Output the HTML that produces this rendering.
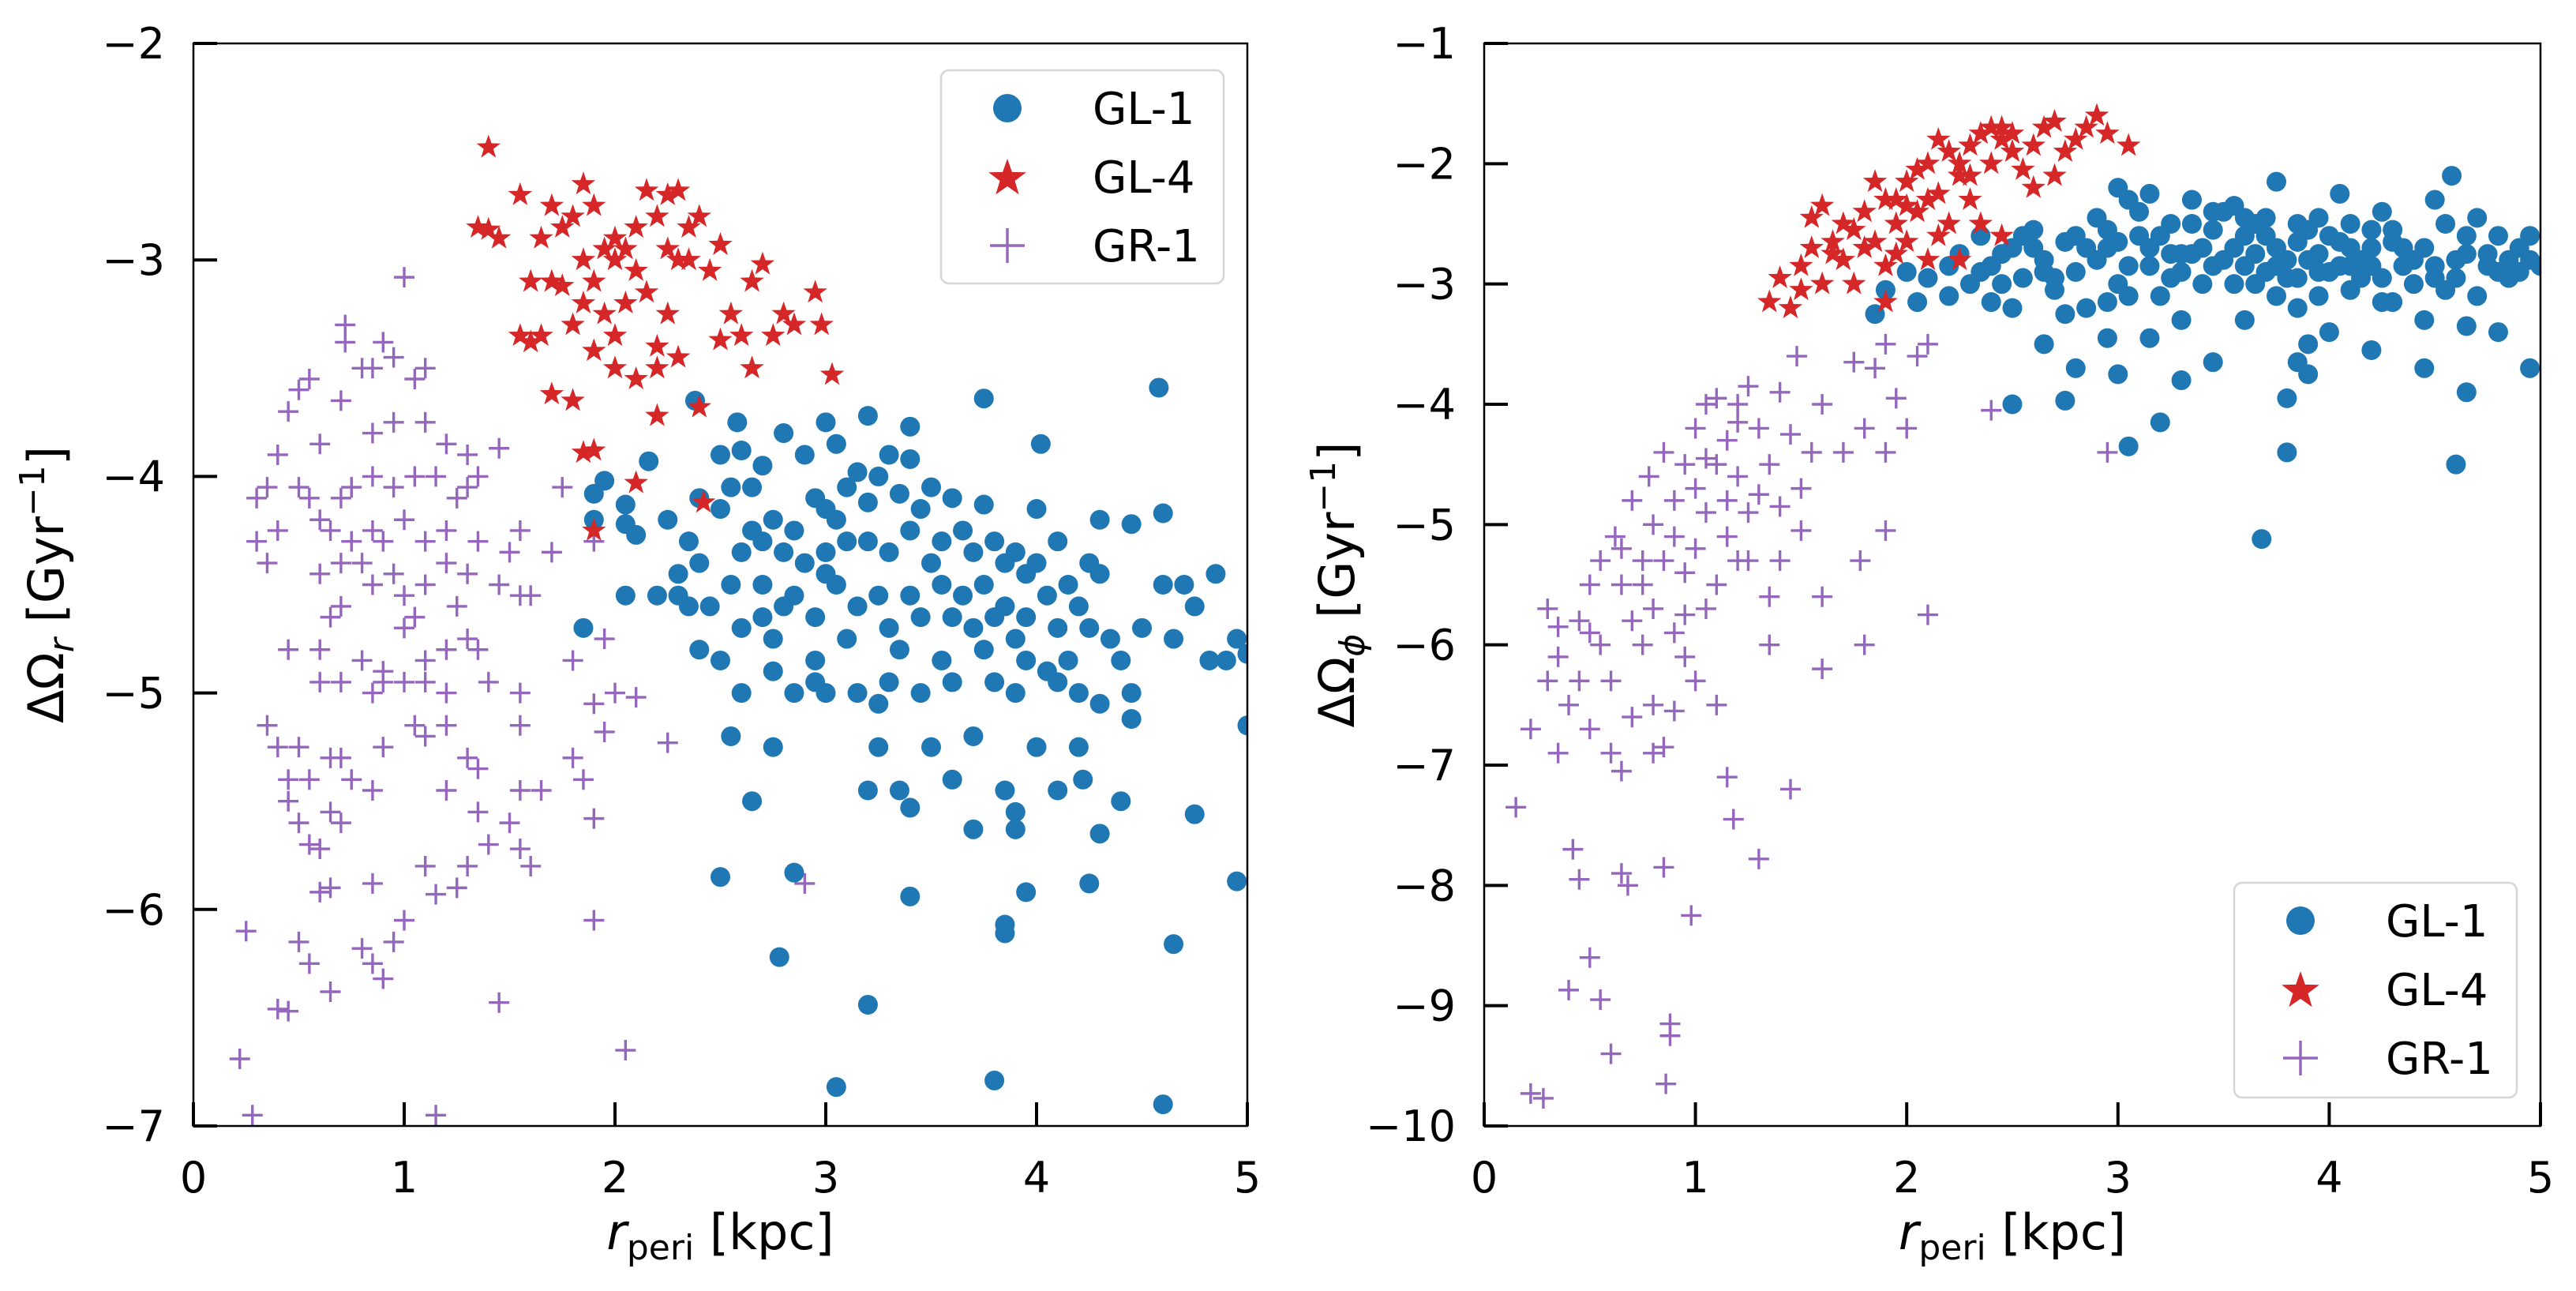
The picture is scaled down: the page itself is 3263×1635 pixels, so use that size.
<!DOCTYPE html>
<html><head><meta charset="utf-8">
<style>
html,body{margin:0;padding:0;background:#fff;}
svg{display:block;font-family:"DejaVu Sans","Liberation Sans",sans-serif;}
</style></head>
<body>
<svg id="fig" width="3263" height="1635" viewBox="0 0 3263 1635" xmlns="http://www.w3.org/2000/svg"></svg>
<script>
// ---------- data ----------
const xTicks = [0,1,2,3,4,5];
const yTicksLeft = [-2,-3,-4,-5,-6,-7];
const yTicksRight = [-1,-2,-3,-4,-5,-6,-7,-8,-9,-10];
const seriesNames = ["GL-1","GL-4","GR-1"];

const gl1Left = [[2.38,-3.65],[2.58,-3.75],[3.0,-3.75],[3.2,-3.72],[3.4,-3.77],[2.8,-3.8],[3.75,-3.64],[4.58,-3.59],[4.02,-3.85],[2.16,-3.93],[1.95,-4.02],[1.9,-4.08],[2.05,-4.13],[1.9,-4.2],[2.05,-4.22],[2.1,-4.27],[2.5,-3.9],[2.6,-3.88],[2.7,-3.95],[2.9,-3.9],[3.05,-3.85],[3.15,-3.98],[3.3,-3.9],[3.4,-3.92],[3.1,-4.05],[2.95,-4.1],[2.65,-4.05],[2.4,-4.1],[2.5,-4.15],[2.75,-4.2],[2.85,-4.25],[3.2,-4.12],[3.35,-4.08],[3.5,-4.05],[3.6,-4.1],[3.75,-4.13],[4.0,-4.15],[4.3,-4.2],[4.45,-4.22],[4.6,-4.17],[2.2,-4.55],[2.25,-4.2],[2.35,-4.3],[2.4,-4.4],[2.3,-4.45],[2.6,-4.35],[2.7,-4.3],[2.8,-4.35],[2.9,-4.4],[3.0,-4.35],[3.1,-4.3],[3.2,-4.3],[3.3,-4.35],[3.4,-4.25],[3.55,-4.3],[3.65,-4.25],[3.8,-4.3],[3.9,-4.35],[4.1,-4.3],[4.25,-4.4],[4.3,-4.45],[1.85,-4.7],[2.05,-4.55],[2.45,-4.6],[2.55,-4.5],[2.6,-4.7],[2.7,-4.65],[2.75,-4.75],[2.85,-4.55],[2.95,-4.65],[3.05,-4.5],[3.15,-4.6],[3.25,-4.55],[3.3,-4.7],[3.45,-4.65],[3.55,-4.5],[3.65,-4.55],[3.75,-4.5],[3.85,-4.6],[3.95,-4.65],[4.1,-4.7],[4.2,-4.6],[4.35,-4.75],[4.5,-4.7],[4.6,-4.5],[4.7,-4.5],[4.75,-4.6],[4.85,-4.45],[4.95,-4.75],[5.0,-4.82],[4.82,-4.85],[4.9,-4.85],[4.65,-4.75],[2.4,-4.8],[2.5,-4.85],[2.6,-5.0],[2.75,-4.9],[2.85,-5.0],[3.0,-5.0],[3.15,-5.0],[3.25,-5.05],[3.45,-5.0],[3.6,-4.95],[3.8,-4.95],[3.9,-5.0],[4.1,-4.95],[4.2,-5.0],[4.3,-5.05],[4.45,-5.0],[4.45,-5.12],[3.7,-5.2],[3.5,-5.25],[3.25,-5.25],[2.75,-5.25],[2.55,-5.2],[4.0,-5.25],[4.2,-5.25],[4.22,-5.4],[3.2,-5.45],[3.35,-5.45],[3.4,-5.53],[3.6,-5.4],[3.85,-5.45],[3.9,-5.55],[4.1,-5.45],[4.4,-5.5],[4.75,-5.56],[2.65,-5.5],[3.7,-5.63],[3.9,-5.63],[4.3,-5.65],[2.5,-5.85],[2.85,-5.83],[3.4,-5.94],[3.95,-5.92],[4.25,-5.88],[4.95,-5.87],[3.85,-6.07],[3.85,-6.11],[4.65,-6.16],[2.78,-6.22],[3.2,-6.44],[3.05,-6.82],[3.8,-6.79],[4.6,-6.9],[5.0,-5.15],[2.3,-4.55],[3.0,-4.45],[3.5,-4.4],[4.0,-4.4],[3.75,-4.8],[3.95,-4.85],[4.05,-4.55],[4.15,-4.85],[3.35,-4.8],[3.1,-4.75],[2.95,-4.85],[3.7,-4.7],[3.85,-4.4],[2.55,-4.05],[2.65,-4.25],[3.05,-4.2],[3.25,-4.0],[3.45,-4.15],[3.7,-4.35],[3.6,-4.65],[3.9,-4.75],[4.05,-4.9],[4.25,-4.7],[3.4,-4.55],[2.8,-4.6],[2.35,-4.6],[3.55,-4.85],[3.3,-4.95],[2.95,-4.95],[4.15,-4.5],[3.8,-4.65],[4.4,-4.85],[3.0,-4.15],[2.7,-4.5],[3.95,-4.45]];

const gl4Left = [[1.4,-2.48],[1.35,-2.85],[1.4,-2.86],[1.45,-2.9],[1.55,-2.7],[1.6,-3.1],[1.65,-2.9],[1.7,-2.75],[1.75,-2.85],[1.8,-2.8],[1.85,-2.65],[1.9,-2.75],[1.95,-2.95],[2.0,-2.9],[2.05,-2.95],[2.1,-2.85],[2.15,-2.68],[2.2,-2.8],[2.25,-2.7],[2.3,-2.68],[2.35,-2.85],[2.4,-2.8],[2.5,-2.93],[1.55,-3.35],[1.6,-3.38],[1.65,-3.35],[1.7,-3.1],[1.75,-3.12],[1.8,-3.3],[1.85,-3.2],[1.9,-3.1],[1.95,-3.25],[2.0,-3.35],[2.05,-3.2],[2.1,-3.05],[2.15,-3.15],[2.2,-3.4],[2.25,-3.25],[2.3,-3.45],[2.35,-3.0],[2.45,-3.05],[2.55,-3.25],[2.6,-3.35],[2.65,-3.1],[2.7,-3.02],[2.75,-3.35],[2.85,-3.3],[2.95,-3.15],[2.98,-3.3],[3.03,-3.53],[2.65,-3.5],[2.0,-3.5],[2.1,-3.55],[2.2,-3.5],[1.7,-3.62],[1.8,-3.65],[1.9,-3.42],[1.85,-3.89],[1.9,-3.88],[2.1,-4.03],[1.9,-4.25],[2.42,-4.12],[2.4,-3.68],[2.2,-3.72],[2.3,-3.0],[2.0,-3.0],[1.85,-3.0],[2.5,-3.37],[2.8,-3.25],[2.25,-2.95]];

const gr1Left = [[1.0,-3.08],[0.72,-3.3],[0.72,-3.38],[0.9,-3.38],[0.95,-3.45],[0.85,-3.5],[0.8,-3.5],[1.1,-3.5],[1.05,-3.55],[0.55,-3.55],[0.5,-3.6],[0.45,-3.7],[0.7,-3.65],[0.85,-3.8],[0.95,-3.75],[1.1,-3.75],[1.2,-3.85],[1.3,-3.9],[1.45,-3.87],[0.6,-3.85],[0.4,-3.9],[0.35,-4.05],[0.3,-4.1],[0.5,-4.05],[0.55,-4.1],[0.7,-4.1],[0.75,-4.05],[0.85,-4.0],[0.95,-4.05],[1.05,-4.0],[1.15,-4.0],[1.25,-4.1],[1.35,-4.0],[1.3,-4.05],[0.3,-4.3],[0.4,-4.25],[0.35,-4.4],[0.6,-4.2],[0.65,-4.25],[0.75,-4.3],[0.85,-4.25],[0.9,-4.3],[1.0,-4.2],[1.1,-4.3],[1.2,-4.25],[1.35,-4.3],[1.5,-4.35],[1.55,-4.25],[0.6,-4.45],[0.7,-4.4],[0.8,-4.4],[0.85,-4.5],[0.95,-4.45],[1.0,-4.55],[1.1,-4.5],[1.2,-4.4],[1.3,-4.45],[0.65,-4.65],[0.7,-4.6],[1.0,-4.7],[1.05,-4.65],[1.25,-4.6],[1.55,-4.55],[1.6,-4.55],[1.45,-4.5],[1.7,-4.35],[1.9,-4.3],[1.75,-4.05],[0.45,-4.8],[0.6,-4.8],[0.8,-4.85],[0.9,-4.9],[1.1,-4.85],[1.2,-4.8],[1.3,-4.75],[1.35,-4.8],[1.4,-4.95],[0.6,-4.95],[0.7,-4.95],[0.85,-5.0],[0.9,-4.95],[1.0,-4.95],[1.1,-4.95],[1.2,-5.0],[1.55,-5.0],[1.8,-4.85],[1.95,-4.75],[1.9,-5.05],[2.0,-5.0],[2.1,-5.02],[0.35,-5.15],[0.4,-5.25],[0.5,-5.25],[0.65,-5.3],[0.7,-5.3],[0.9,-5.25],[1.05,-5.15],[1.1,-5.2],[1.2,-5.15],[1.3,-5.3],[1.35,-5.35],[1.55,-5.15],[1.8,-5.3],[1.95,-5.18],[2.25,-5.23],[0.45,-5.4],[0.55,-5.4],[0.75,-5.4],[0.85,-5.45],[1.2,-5.45],[1.35,-5.55],[1.55,-5.45],[1.65,-5.45],[0.45,-5.5],[0.5,-5.6],[0.65,-5.55],[0.7,-5.6],[1.5,-5.6],[1.4,-5.7],[0.55,-5.7],[0.6,-5.72],[1.1,-5.8],[1.3,-5.8],[1.55,-5.72],[1.6,-5.8],[1.25,-5.9],[1.15,-5.93],[0.6,-5.92],[0.65,-5.9],[0.85,-5.88],[1.85,-5.4],[1.9,-5.58],[0.25,-6.1],[0.5,-6.15],[0.55,-6.25],[0.8,-6.18],[0.85,-6.25],[0.95,-6.15],[1.0,-6.05],[0.9,-6.32],[0.45,-6.47],[0.4,-6.46],[0.65,-6.38],[1.45,-6.43],[1.9,-6.05],[2.05,-6.65],[2.9,-5.88],[0.22,-6.69],[0.28,-6.95],[1.15,-6.95]];

const gl1Right = [[1.85,-3.25],[1.9,-3.05],[2.0,-2.9],[2.05,-3.15],[2.1,-2.95],[2.2,-2.85],[2.25,-2.75],[2.3,-3.0],[2.35,-2.6],[2.4,-2.85],[2.45,-3.0],[2.5,-2.7],[2.55,-2.95],[2.6,-2.55],[2.65,-2.8],[2.7,-3.05],[2.75,-2.65],[2.8,-2.9],[2.85,-3.2],[2.9,-2.45],[2.95,-2.7],[3.0,-3.0],[3.05,-2.3],[3.1,-2.6],[3.15,-2.85],[3.2,-3.1],[3.25,-2.5],[3.3,-2.75],[3.35,-2.3],[3.4,-3.0],[3.45,-2.55],[3.5,-2.8],[3.55,-2.35],[3.6,-2.6],[3.65,-3.0],[3.7,-2.45],[3.75,-2.7],[3.8,-2.95],[3.85,-2.5],[3.9,-2.8],[3.95,-3.1],[4.0,-2.6],[4.05,-2.85],[4.1,-2.5],[4.15,-2.95],[4.2,-2.7],[4.25,-3.15],[4.3,-2.55],[4.35,-2.85],[4.4,-3.0],[4.45,-2.7],[4.5,-2.95],[4.55,-2.5],[4.6,-2.8],[4.65,-2.6],[4.7,-3.1],[4.75,-2.85],[4.8,-2.6],[4.85,-2.8],[4.9,-2.9],[4.95,-2.6],[5.0,-2.85],[4.58,-2.1],[4.05,-2.25],[3.75,-2.15],[4.5,-2.3],[4.25,-2.4],[2.6,-2.7],[2.7,-2.95],[2.8,-2.6],[2.9,-2.8],[3.0,-2.65],[3.1,-2.4],[3.2,-2.6],[3.3,-2.9],[3.4,-2.7],[3.5,-2.4],[3.6,-2.85],[3.7,-2.6],[3.8,-2.8],[3.9,-2.55],[4.0,-2.9],[4.1,-2.7],[4.2,-2.85],[4.3,-2.65],[3.85,-2.95],[3.95,-2.75],[3.65,-2.75],[3.45,-2.85],[3.25,-2.75],[2.2,-3.1],[2.5,-3.2],[2.4,-3.15],[2.75,-3.25],[2.95,-3.15],[3.05,-3.1],[3.55,-3.0],[3.75,-3.1],[3.85,-3.2],[4.1,-3.05],[4.3,-3.15],[4.45,-3.3],[4.0,-3.4],[3.3,-3.3],[3.6,-3.3],[3.9,-3.5],[4.2,-3.55],[4.45,-3.7],[4.65,-3.35],[4.8,-3.4],[4.95,-3.7],[3.15,-3.45],[2.65,-3.5],[2.95,-3.45],[3.45,-3.65],[3.0,-3.75],[3.3,-3.8],[3.8,-3.95],[3.9,-3.75],[3.85,-3.65],[2.8,-3.7],[2.5,-4.0],[2.75,-3.97],[3.2,-4.15],[3.05,-4.35],[3.8,-4.4],[4.65,-3.9],[4.6,-4.5],[3.68,-5.12],[4.4,-2.8],[4.55,-3.05],[4.75,-2.75],[2.35,-2.9],[2.55,-2.6],[3.35,-2.5],[3.95,-2.45],[4.2,-2.55],[4.7,-2.45],[4.9,-2.7],[3.65,-2.5],[3.15,-2.25],[3.0,-2.2],[2.45,-2.75],[2.65,-2.9],[2.85,-2.7],[3.05,-2.85],[3.25,-2.95],[3.45,-2.4],[3.55,-2.7],[3.75,-2.85],[3.95,-2.9],[4.05,-2.65],[4.15,-2.8],[4.35,-2.7],[4.5,-2.85],[4.6,-2.95],[4.8,-2.9],[4.95,-2.8],[3.35,-2.75],[3.85,-2.65],[4.25,-2.95],[3.6,-2.45],[3.15,-2.7],[2.95,-2.55],[4.65,-2.75],[4.85,-2.95],[3.7,-2.9],[4.1,-2.85]];

const gl4Right = [[1.35,-3.15],[1.4,-2.95],[1.45,-3.2],[1.5,-3.05],[1.55,-2.7],[1.6,-3.0],[1.65,-2.65],[1.7,-2.8],[1.75,-2.55],[1.8,-2.4],[1.85,-2.65],[1.9,-2.3],[1.95,-2.5],[2.0,-2.15],[2.05,-2.4],[2.1,-2.0],[2.15,-2.25],[2.2,-1.9],[2.25,-2.1],[2.3,-1.85],[2.35,-1.75],[2.4,-2.0],[2.45,-1.8],[2.5,-1.75],[2.55,-2.05],[2.6,-1.85],[2.65,-1.7],[2.7,-2.1],[2.75,-1.9],[2.8,-1.8],[2.9,-1.6],[2.95,-1.75],[3.05,-1.85],[2.7,-1.65],[2.45,-1.7],[2.3,-2.3],[2.2,-2.5],[2.0,-2.65],[1.9,-2.85],[1.8,-2.7],[1.7,-2.5],[1.6,-2.35],[1.75,-3.0],[1.9,-3.15],[2.1,-2.8],[2.0,-2.35],[1.85,-2.15],[2.15,-2.6],[2.3,-2.1],[2.4,-1.7],[2.05,-2.05],[1.95,-2.3],[1.65,-2.75],[1.5,-2.85],[2.45,-2.6],[2.6,-2.2],[2.25,-2.0],[2.1,-2.3],[2.5,-1.9],[2.85,-1.7],[1.55,-2.45],[1.95,-2.75],[2.35,-2.5],[2.15,-1.8],[2.25,-2.8]];

const gr1Right = [[0.15,-7.35],[0.22,-9.73],[0.28,-9.77],[0.22,-6.7],[0.3,-5.7],[0.35,-5.85],[0.35,-6.1],[0.3,-6.3],[0.4,-6.5],[0.35,-6.9],[0.42,-7.7],[0.45,-7.95],[0.4,-8.87],[0.5,-8.6],[0.55,-8.95],[0.6,-9.4],[0.5,-6.7],[0.45,-5.8],[0.5,-5.5],[0.55,-5.3],[0.55,-6.0],[0.6,-6.3],[0.6,-6.9],[0.65,-7.9],[0.68,-8.0],[0.65,-7.05],[0.7,-6.6],[0.7,-5.8],[0.65,-5.5],[0.62,-5.1],[0.7,-4.8],[0.75,-5.3],[0.75,-6.0],[0.8,-6.5],[0.8,-6.9],[0.85,-7.85],[0.88,-9.15],[0.88,-9.25],[0.86,-9.65],[0.85,-6.85],[0.8,-5.7],[0.8,-5.0],[0.78,-4.6],[0.85,-4.4],[0.85,-5.3],[0.9,-5.9],[0.9,-6.55],[0.95,-6.1],[0.98,-8.25],[0.9,-4.8],[0.95,-4.5],[0.95,-5.4],[1.0,-4.2],[1.0,-4.7],[1.0,-5.2],[1.05,-4.0],[1.05,-4.9],[1.05,-5.7],[1.1,-4.5],[1.1,-3.95],[1.1,-5.5],[1.1,-6.5],[1.15,-4.3],[1.15,-4.8],[1.15,-5.1],[1.15,-7.1],[1.18,-7.45],[1.2,-4.0],[1.2,-4.6],[1.25,-5.3],[1.25,-3.85],[1.3,-4.2],[1.3,-4.75],[1.3,-7.78],[1.35,-5.6],[1.35,-6.0],[1.35,-4.5],[1.4,-4.85],[1.4,-3.9],[1.45,-4.25],[1.48,-3.6],[1.5,-4.7],[1.5,-5.05],[1.45,-7.2],[1.55,-4.4],[1.6,-4.0],[1.6,-5.6],[1.6,-6.2],[1.7,-4.4],[1.75,-3.65],[1.78,-5.3],[1.8,-4.2],[1.8,-6.0],[1.85,-3.7],[1.9,-3.5],[1.9,-4.4],[1.9,-5.05],[1.95,-3.95],[2.0,-4.2],[2.05,-3.6],[2.1,-5.75],[2.4,-4.05],[2.95,-4.4],[2.1,-3.5],[1.25,-4.9],[1.2,-5.3],[0.95,-5.75],[0.75,-5.5],[0.9,-5.1],[1.0,-6.3],[0.45,-6.3],[0.5,-5.9],[0.65,-5.2],[1.05,-4.45],[1.2,-4.15],[1.4,-5.3]];

// ---------- drawing ----------
const NS = "http://www.w3.org/2000/svg";
const svg = document.getElementById("fig");
const BLUE="#1f77b4", RED="#d62728", PURPLE="#9467bd";

function mk(tag, attrs, parent){
  const e = document.createElementNS(NS, tag);
  for (const k in attrs) e.setAttribute(k, attrs[k]);
  (parent||svg).appendChild(e);
  return e;
}
function starPath(cx, cy, R){
  const r = R*0.4; let d="";
  for(let i=0;i<10;i++){
    const a = -Math.PI/2 + i*Math.PI/5;
    const rr = i%2===0 ? R : r;
    d += (i?"L":"M") + (cx+rr*Math.cos(a)).toFixed(1) + "," + (cy+rr*Math.sin(a)).toFixed(1);
  }
  return d+"Z";
}
function drawMarker(g, type, cx, cy, name){
  let el;
  if (type==="dot"){
    el = mk("circle",{cx:cx,cy:cy,r:12.5,fill:BLUE},g);
  } else if (type==="star"){
    el = mk("path",{d:starPath(cx,cy,16),fill:RED},g);
  } else {
    el = mk("path",{d:`M${cx-13},${cy}H${cx+13}M${cx},${cy-13}V${cy+13}`,stroke:PURPLE,"stroke-width":3.4,fill:"none"},g);
  }
  
  
  return el;
}

function panel(opts){
  const {id, x0, x1, y0, y1, ymax, ymin, yTicks, gl1, gl4, gr1, ylabelSub, legend} = opts;
  const g = mk("g",{});
  
  
  const X = v => x0 + (v-0)/(5-0)*(x1-x0);
  const Y = v => y0 + (ymax-v)/(ymax-ymin)*(y1-y0);

  const cp = mk("clipPath",{id:id+"-clip"},g);
  mk("rect",{x:x0,y:y0,width:x1-x0,height:y1-y0},cp);
  const marks = mk("g",{"clip-path":`url(#${id}-clip)`},g);
  
  

  gr1.forEach(p => drawMarker(marks,"plus",X(p[0]),Y(p[1]),'gr1-point'));
  gl1.forEach(p => drawMarker(marks,"dot",X(p[0]),Y(p[1]),'gl1-point'));
  gl4.forEach(p => drawMarker(marks,"star",X(p[0]),Y(p[1]),'gl4-point'));

  const fr = mk("rect",{x:x0,y:y0,width:x1-x0,height:y1-y0,fill:"none",stroke:"#000","stroke-width":2.5},g);
  
  

  xTicks.forEach(t=>{
    const tk = mk("line",{x1:X(t),x2:X(t),y1:y1,y2:y1-30,stroke:"#000","stroke-width":4},g);
    
    
    const lb = mk("text",{x:X(t),y:y1+84,"text-anchor":"middle","font-size":54,fill:"#000"},g);
    lb.textContent = t;
    
    
  });
  yTicks.forEach(t=>{
    const tk = mk("line",{x1:x0,x2:x0+30,y1:Y(t),y2:Y(t),stroke:"#000","stroke-width":4},g);
    
    
    const lb = mk("text",{x:x0-36,y:Y(t)+19,"text-anchor":"end","font-size":54,fill:"#000"},g);
    lb.textContent = "\u2212" + Math.abs(t);
    
    
  });

  const xl = mk("text",{x:(x0+x1)/2,y:1582,"text-anchor":"middle","font-size":62,fill:"#000"},g);
  
  
  xl.innerHTML = '<tspan font-style="italic">r</tspan><tspan font-size="44" dy="13">peri</tspan><tspan dy="-13"> [kpc]</tspan>';

  const yl = mk("text",{x:0,y:0,"text-anchor":"middle","font-size":62,fill:"#000",transform:`translate(${x0-165},${(y0+y1)/2}) rotate(-90)`},g);
  
  
  yl.innerHTML = `ΔΩ<tspan font-size="44" dy="13" font-style="italic">${ylabelSub}</tspan><tspan dy="-13"> [Gyr</tspan><tspan font-size="44" dy="-24">−1</tspan><tspan dy="24">]</tspan>`;

  const lg = mk("g",{},g);
  
  
  const bx = mk("rect",{x:legend.x,y:legend.y,width:legend.w,height:legend.h,rx:10,fill:"#fff","fill-opacity":0.8,stroke:"#d6d6d6","stroke-width":2.5},lg);
  
  
  const types=["dot","star","plus"];
  seriesNames.forEach((n,i)=>{
    const cy = legend.y + 48 + i*87;
    const cx = legend.x + 84;
    const e = mk("g",{},lg);
    
    
    if(types[i]==="dot"){ mk("circle",{cx:cx,cy:cy,r:18,fill:BLUE},e); }
    else if(types[i]==="star"){ mk("path",{d:starPath(cx,cy+2,25),fill:RED},e); }
    else { mk("path",{d:`M${cx-22},${cy}H${cx+22}M${cx},${cy-22}V${cy+22}`,stroke:PURPLE,"stroke-width":3.4},e); }
    const t = mk("text",{x:legend.x+192,y:cy+20,"font-size":56,fill:"#000"},e);
    t.textContent = n;
  });
}

panel({id:"left-panel", x0:245, x1:1580, y0:55, y1:1426, ymax:-2, ymin:-7, yTicks:yTicksLeft,
  gl1:gl1Left, gl4:gl4Left, gr1:gr1Left, ylabelSub:"r",
  legend:{x:1192,y:89,w:358,h:270}});
panel({id:"right-panel", x0:1880, x1:3218, y0:55, y1:1426, ymax:-1, ymin:-10, yTicks:yTicksRight,
  gl1:gl1Right, gl4:gl4Right, gr1:gr1Right, ylabelSub:"ϕ",
  legend:{x:2830,y:1118,w:358,h:272}});
</script>
</body></html>
